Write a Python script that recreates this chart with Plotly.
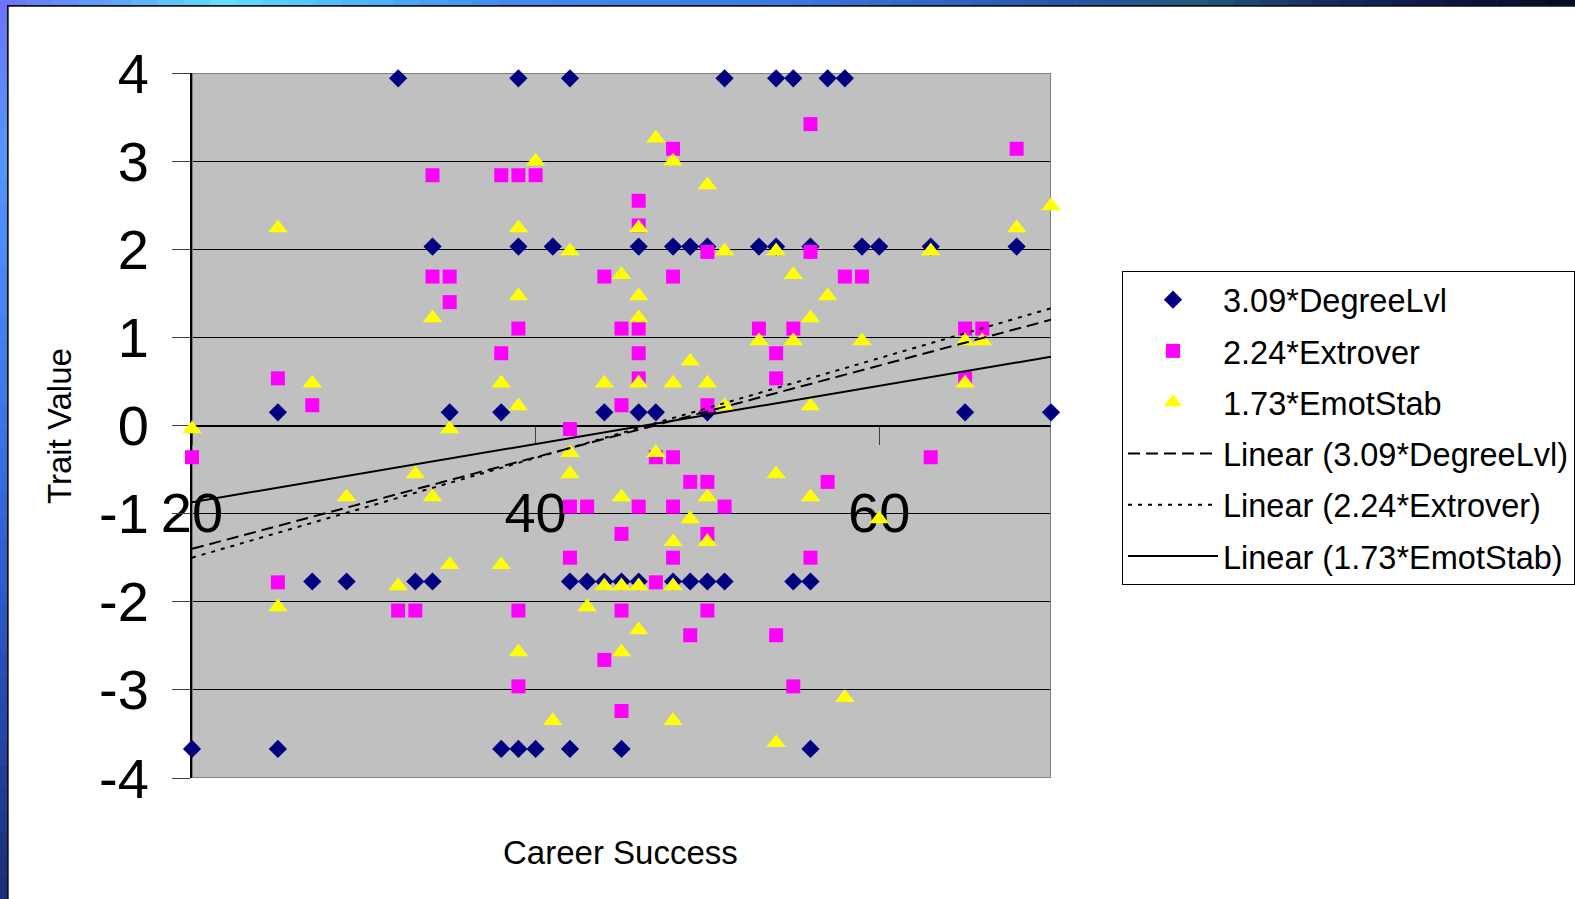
import plotly.graph_objects as go

# ---- series data: Career Success (x) vs weighted trait value (y) ----
degree_x = [32, 39, 42, 51, 54, 55, 57, 58,
            34, 39, 41, 46, 48, 49, 50, 53, 54, 56, 59, 60, 63, 68,
            25, 35, 38, 44, 46, 47, 50, 65, 70,
            27, 29, 33, 34, 42, 43, 44, 45, 46, 48, 49, 50, 51, 55, 56,
            20, 25, 38, 39, 40, 42, 45, 56]
degree_y = [3.94, 3.94, 3.94, 3.94, 3.94, 3.94, 3.94, 3.94,
            2.03, 2.03, 2.03, 2.03, 2.03, 2.03, 2.03, 2.03, 2.03, 2.03, 2.03, 2.03, 2.03, 2.03,
            0.15, 0.15, 0.15, 0.15, 0.15, 0.15, 0.15, 0.15, 0.15,
            -1.77, -1.77, -1.77, -1.77, -1.77, -1.77, -1.77, -1.77, -1.77, -1.77, -1.77, -1.77, -1.77, -1.77, -1.77,
            -3.67, -3.67, -3.67, -3.67, -3.67, -3.67, -3.67, -3.67]

extrover_x = [56, 48, 68, 34, 38, 39, 40, 46, 46,
              50, 56, 34, 35, 44, 48, 58, 59, 35,
              39, 45, 46, 53, 55, 65, 66, 38, 46, 54,
              25, 46, 54, 65, 27, 45, 50, 42,
              20, 47, 48, 63, 49, 50, 57,
              42, 43, 46, 48, 51, 45, 50, 42, 48, 56,
              25, 47, 32, 33, 39, 45, 50, 49, 54, 44,
              39, 55, 45]
extrover_y = [3.42, 3.14, 3.14, 2.84, 2.84, 2.84, 2.84, 2.55, 2.27,
              1.97, 1.97, 1.69, 1.69, 1.69, 1.69, 1.69, 1.69, 1.40,
              1.10, 1.10, 1.10, 1.10, 1.10, 1.10, 1.10, 0.82, 0.82, 0.82,
              0.535, 0.535, 0.535, 0.535, 0.23, 0.23, 0.23, -0.04,
              -0.36, -0.36, -0.36, -0.36, -0.64, -0.64, -0.64,
              -0.92, -0.92, -0.92, -0.92, -0.92, -1.23, -1.23, -1.50, -1.50, -1.50,
              -1.78, -1.78, -2.10, -2.10, -2.10, -2.10, -2.10, -2.38, -2.38, -2.66,
              -2.96, -2.96, -3.24]

emot_x = [20, 25, 25, 27, 29, 32, 33, 34, 34, 35, 35, 38, 38,
          39, 39, 39, 39, 40, 41, 42, 42, 42, 43, 44, 44,
          45, 45, 45, 45, 46, 46, 46, 46, 46, 46, 47, 47,
          48, 48, 48, 48, 48, 49, 49, 50, 50, 50, 50, 51, 51,
          53, 54, 54, 54, 55, 55, 56, 56, 56, 57, 58, 59, 60,
          63, 65, 65, 66, 68, 70]
emot_y = [-0.04, 2.24, -2.06, 0.48, -0.81, -1.82, -0.55, 1.22, -0.81, -0.04, -1.58, 0.48, -1.58,
          2.24, 1.47, 0.22, -2.57, 3.00, -3.35, 1.98, -0.31, -0.55, -2.06, 0.48, -1.82,
          1.71, -0.81, -1.82, -2.57, 2.24, 1.47, 1.22, 0.48, -1.82, -2.32, 3.26, -0.31,
          3.00, 0.48, -1.32, -1.82, -3.35, 0.73, -1.06, 2.73, 0.48, -0.81, -1.32, 1.98, 0.22,
          0.96, 1.98, -0.55, -3.60, 1.71, 0.96, 1.22, 0.22, -0.81, 1.47, -3.09, 0.96, -1.06,
          1.98, 0.96, 0.48, 0.96, 2.24, 2.49]

# linear trend lines, value at each end of the x range
trend_x = [20, 70]
degree_trend = [-1.40, 1.20]
extrover_trend = [-1.50, 1.33]
emot_trend = [-0.87, 0.78]

series_names = ["3.09*DegreeLvl", "2.24*Extrover", "1.73*EmotStab"]
trend_names = ["Linear (3.09*DegreeLvl)", "Linear (2.24*Extrover)", "Linear (1.73*EmotStab)"]

x_tick_vals = [20, 40, 60]
x_tick_text = ["20", "40", "60"]
y_tick_vals = [4, 3, 2, 1, 0, -1, -2, -3, -4]
y_tick_text = ["4", "3", "2", "1", "0", "-1", "-2", "-3", "-4"]

x_title = "Career Success"
y_title = "Trait Value"

# ---- page geometry (pixels) ----
W, H = 1575, 899
PL, PR, PT, PB = 192, 1051, 73, 778   # plot-area edges


def px_x(px):
    return (px - PL) / (PR - PL)


def px_y(py):
    return (PB - py) / (PB - PT)


FONT = "Liberation Sans, Arial, sans-serif"

fig = go.Figure()

marker_styles = [
    dict(symbol="diamond", size=14, color="#000080"),
    dict(symbol="square", size=14, color="#FF00FF"),
    dict(symbol="triangle-up", size=17, color="#FFFF00"),
]
for name, xs, ys, mk in zip(series_names,
                            [degree_x, extrover_x, emot_x],
                            [degree_y, extrover_y, emot_y],
                            marker_styles):
    fig.add_trace(go.Scatter(
        x=xs, y=ys, mode="markers", name=name, legendgroup=name,
        marker=dict(symbol=mk["symbol"], size=mk["size"], color=mk["color"],
                    line=dict(width=0)),
        cliponaxis=False, hoverinfo="skip",
    ))

line_dashes = ["12px,6px", "4px,6px", "solid"]
for name, ys, dash in zip(trend_names, [degree_trend, extrover_trend, emot_trend], line_dashes):
    fig.add_trace(go.Scatter(
        x=trend_x, y=ys, mode="lines", name=name, legendgroup=name,
        line=dict(color="black", width=2, dash=dash),
        cliponaxis=False, hoverinfo="skip",
    ))

# ---- decorative slide frame: gradient strips on the top and left edges ----
def lerp(stops, pos):
    for (p0, c0), (p1, c1) in zip(stops[:-1], stops[1:]):
        if p0 <= pos <= p1:
            t = (pos - p0) / (p1 - p0) if p1 > p0 else 0
            return "rgb(%d,%d,%d)" % tuple(round(a + (b - a) * t) for a, b in zip(c0, c1))
    return "rgb(%d,%d,%d)" % stops[-1][1]


top_stops = [(0, (110, 115, 250)), (110, (95, 160, 255)), (220, (95, 225, 255)),
             (330, (80, 190, 255)), (500, (65, 140, 240)), (800, (55, 120, 225)),
             (1050, (40, 85, 175)), (1200, (32, 90, 125)), (1330, (25, 40, 100)),
             (1450, (12, 22, 65)), (1575, (5, 10, 32))]
left_stops = [(0, (110, 115, 250)), (150, (85, 150, 255)), (400, (60, 120, 235)),
              (650, (42, 80, 190)), (899, (25, 45, 120))]

shapes = []
N = 60
for i in range(N):
    a, b = i * W / N, (i + 1) * W / N
    shapes.append(dict(type="rect", xref="paper", yref="paper", layer="above",
                       x0=px_x(a), x1=px_x(b + 0.6), y0=px_y(0), y1=px_y(5),
                       fillcolor=lerp(top_stops, (a + b) / 2), line=dict(width=0)))
N = 40
for i in range(N):
    a, b = i * H / N, (i + 1) * H / N
    shapes.append(dict(type="rect", xref="paper", yref="paper", layer="above",
                       x0=px_x(0), x1=px_x(7), y0=px_y(a), y1=px_y(b + 0.6),
                       fillcolor=lerp(left_stops, (a + b) / 2), line=dict(width=0)))
shapes.append(dict(type="rect", xref="paper", yref="paper", layer="above",
                   x0=px_x(7), x1=px_x(W), y0=px_y(5), y1=px_y(6.8),
                   fillcolor="#111111", line=dict(width=0)))
shapes.append(dict(type="rect", xref="paper", yref="paper", layer="above",
                   x0=px_x(7), x1=px_x(8.7), y0=px_y(5), y1=px_y(H),
                   fillcolor="#111111", line=dict(width=0)))
# plot-area border
shapes.append(dict(type="rect", xref="x", yref="y", layer="between",
                   x0=20, x1=70, y0=-4, y1=4,
                   line=dict(color="#808080", width=2), fillcolor="rgba(0,0,0,0)"))

annotations = [
    dict(text=x_title, xref="paper", yref="paper", x=px_x(620), y=px_y(852),
         xanchor="center", yanchor="middle", showarrow=False,
         font=dict(family=FONT, size=33, color="black")),
    dict(text=y_title, xref="paper", yref="paper", x=px_x(60), y=px_y(426),
         xanchor="center", yanchor="middle", showarrow=False, textangle=-90,
         font=dict(family=FONT, size=33, color="black")),
]

fig.update_layout(
    width=W, height=H, autosize=False,
    margin=dict(l=PL, r=W - PR, t=PT, b=H - PB, pad=0, autoexpand=False),
    paper_bgcolor="white", plot_bgcolor="#C0C0C0",
    shapes=shapes, annotations=annotations,
    xaxis=dict(range=[20, 70], anchor="free", position=0.5, side="bottom",
               showline=True, linecolor="black", linewidth=1,
               showgrid=False, zeroline=False,
               tickmode="array", tickvals=x_tick_vals, ticktext=x_tick_text,
               ticks="outside", ticklen=18, tickwidth=1, tickcolor="#404040",
               ticklabelstandoff=20,
               tickfont=dict(family=FONT, size=56, color="black"),
               layer="below traces", fixedrange=True, automargin=False),
    yaxis=dict(range=[-4, 4], domain=[0, 1],
               showline=True, linecolor="black", linewidth=2,
               showgrid=True, gridcolor="black", gridwidth=1, zeroline=False,
               tickmode="array", tickvals=y_tick_vals, ticktext=y_tick_text,
               ticks="outside", ticklen=18, tickwidth=1, tickcolor="#404040",
               ticklabelstandoff=12,
               tickfont=dict(family=FONT, size=56, color="black"),
               layer="below traces", fixedrange=True, automargin=False),
    legend=dict(x=px_x(1122), y=px_y(271), xanchor="left", yanchor="top",
                bgcolor="white", bordercolor="black", borderwidth=1,
                font=dict(family=FONT, size=32.5, color="black"),
                itemwidth=90, traceorder="grouped", tracegroupgap=6,
                itemclick=False, itemdoubleclick=False),
    showlegend=True,
)

fig.write_html("out.html")
